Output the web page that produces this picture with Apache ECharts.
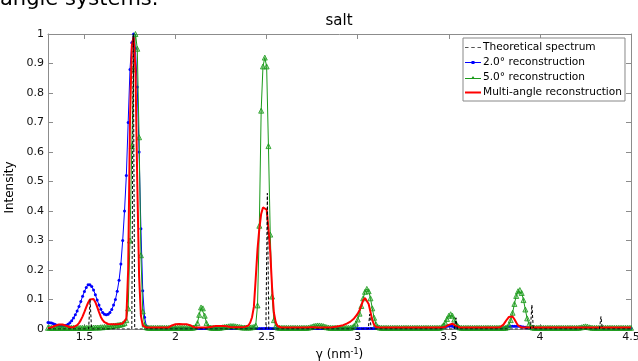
<!DOCTYPE html>
<html>
<head>
<meta charset="utf-8">
<script src="https://cdn.jsdelivr.net/npm/echarts@6/dist/echarts.min.js"></script>
<style>html,body{margin:0;padding:0;background:#fff;}#c{width:638px;height:361px;}</style>
</head>
<body>
<div id="c"></div>
<script>
// Sampling grid of the reconstructions: gamma = 1.30 + 0.01*i  (i = 0..320)
const gammaStart = 1.30;
const gammaStep = 0.01;

const xTicks = [1.5, 2, 2.5, 3, 3.5, 4, 4.5];

// Theoretical spectrum (narrow peaks)
const theoX = [1.30, 1.523, 1.531, 1.539, 1.760, 1.768, 1.776, 2.496, 2.504, 2.512,
               3.058, 3.066, 3.074, 3.531, 3.539, 3.547, 3.948, 3.956, 3.964,
               4.327, 4.335, 4.343, 4.50];
const theoY = [0, 0, 0.10, 0, 0, 1.00, 0, 0, 0.46, 0,
               0, 0.05, 0, 0, 0.038, 0, 0, 0.082, 0,
               0, 0.042, 0, 0];

// 2.0 deg reconstruction
const blue2 = [
 .022,.021,.020,.018,.015,.013,.011,.010,.010,.011, // 1.30
 .013,.016,.021,.028,.037,.048,.061,.076,.093,.111, // 1.40
 .127,.141,.150,.150,.144,.132,.116,.098,.081,.067, // 1.50
 .056,.050,.048,.050,.056,.066,.081,.100,.128,.165, // 1.60
 .220,.300,.400,.520,.700,.880,.970,1.00,.950,.820, // 1.70
 .600,.340,.130,.040,.010,.004,.002,.002,.002,.002, // 1.80
 .002,.002,.002,.002,.002,.002,.002,.002,.002,.002, // 1.90
 .002,.002,.002,.002,.002,.002,.002,.002,.002,.002, // 2.00
 .002,.002,.002,.002,.002,.002,.002,.002,.002,.002, // 2.10
 .002,.002,.002,.002,.002,.002,.002,.002,.002,.002, // 2.20
 .002,.002,.002,.002,.002,.002,.002,.002,.002,.002, // 2.30
 .002,.002,.002,.002,.002,.002,.002,.002,.002,.002, // 2.40
 .002,.002,.002,.002,.002,.002,.002,.002,.002,.002, // 2.50
 .002,.002,.002,.002,.002,.002,.002,.002,.002,.002, // 2.60
 .002,.002,.002,.002,.002,.002,.002,.002,.002,.002, // 2.70
 .002,.002,.002,.002,.002,.002,.002,.002,.002,.002, // 2.80
 .002,.002,.002,.002,.002,.002,.002,.002,.002,.002, // 2.90
 .002,.002,.002,.002,.002,.002,.002,.002,.002,.002, // 3.00
 .002,.002,.002,.002,.002,.002,.002,.002,.002,.002, // 3.10
 .002,.002,.002,.002,.002,.002,.002,.002,.002,.002, // 3.20
 .002,.002,.002,.002,.002,.002,.002,.002,.002,.002, // 3.30
 .002,.002,.002,.002,.002,.002,.003,.005,.007,.009, // 3.40
 .010,.010,.009,.006,.004,.002,.002,.002,.002,.002, // 3.50
 .002,.002,.002,.002,.002,.002,.002,.002,.002,.002, // 3.60
 .002,.002,.002,.002,.002,.002,.002,.002,.002,.002, // 3.70
 .003,.005,.007,.008,.009,.009,.009,.009,.009,.009, // 3.80
 .008,.007,.006,.004,.003,.002,.002,.002,.002,.002, // 3.90
 .002,.002,.002,.002,.002,.002,.002,.002,.002,.002, // 4.00
 .002,.002,.002,.002,.002,.002,.002,.002,.002,.002, // 4.10
 .002,.002,.003,.004,.005,.005,.004,.003,.002,.002, // 4.20
 .002,.002,.002,.002,.002,.002,.002,.002,.002,.002, // 4.30
 .002,.002,.002,.002,.002,.002,.002,.002,.002,.002, // 4.40
 .002                                                // 4.50
];

// 5.0 deg reconstruction
const green5 = [
 .004,.004,.004,.004,.004,.004,.004,.004,.004,.004, // 1.30
 .004,.004,.004,.004,.004,.004,.004,.004,.004,.004, // 1.40
 .004,.004,.004,.004,.004,.005,.005,.005,.005,.006, // 1.50
 .006,.007,.007,.008,.009,.010,.011,.012,.013,.014, // 1.60
 .015,.017,.020,.030,.070,.300,.620,.880,1.00,.950, // 1.70
 .650,.250,.060,.015,.006,.004,.004,.004,.004,.004, // 1.80
 .004,.004,.004,.004,.004,.004,.004,.004,.004,.004, // 1.90
 .004,.004,.004,.004,.004,.004,.004,.004,.004,.004, // 2.00
 .005,.008,.020,.048,.073,.070,.045,.020,.008,.005, // 2.10
 .004,.004,.004,.004,.004,.005,.006,.007,.008,.009, // 2.20
 .010,.010,.010,.009,.008,.007,.006,.005,.005,.005, // 2.30
 .005,.005,.006,.007,.012,.080,.350,.740,.890,.920, // 2.40
 .890,.620,.320,.110,.030,.010,.005,.004,.004,.004, // 2.50
 .004,.004,.004,.004,.004,.004,.004,.004,.004,.004, // 2.60
 .004,.004,.004,.005,.006,.008,.010,.011,.012,.012, // 2.70
 .011,.010,.008,.006,.005,.004,.004,.004,.004,.004, // 2.80
 .004,.004,.004,.004,.004,.004,.004,.006,.010,.018, // 2.90
 .032,.052,.078,.104,.126,.136,.128,.104,.070,.038, // 3.00
 .016,.007,.005,.004,.004,.004,.004,.004,.004,.004, // 3.10
 .004,.004,.004,.004,.004,.004,.004,.004,.004,.004, // 3.20
 .004,.004,.004,.004,.004,.004,.004,.004,.004,.004, // 3.30
 .004,.004,.004,.004,.004,.004,.006,.012,.022,.034, // 3.40
 .045,.050,.045,.032,.018,.009,.005,.004,.004,.004, // 3.50
 .004,.004,.004,.004,.004,.004,.004,.004,.004,.004, // 3.60
 .004,.004,.004,.004,.004,.004,.004,.004,.004,.004, // 3.70
 .004,.004,.006,.014,.030,.055,.085,.112,.128,.132, // 3.80
 .122,.098,.066,.036,.016,.007,.005,.004,.004,.004, // 3.90
 .004,.004,.004,.004,.004,.004,.004,.004,.004,.004, // 4.00
 .004,.004,.004,.004,.004,.004,.004,.004,.004,.004, // 4.10
 .004,.004,.005,.006,.008,.009,.008,.006,.005,.004, // 4.20
 .004,.004,.004,.004,.004,.004,.004,.004,.004,.004, // 4.30
 .004,.004,.004,.004,.004,.004,.004,.004,.004,.004, // 4.40
 .004                                                // 4.50
];

// Multi-angle reconstruction
const multi = [
 .003,.004,.006,.008,.011,.013,.015,.015,.015,.013, // 1.30
 .011,.008,.006,.005,.006,.008,.013,.020,.030,.043, // 1.40
 .058,.074,.089,.100,.105,.102,.091,.075,.057,.041, // 1.50
 .030,.023,.019,.017,.016,.016,.016,.016,.016,.017, // 1.60
 .018,.019,.020,.035,.200,.700,.960,.990,.880,.500, // 1.70
 .180,.045,.012,.006,.005,.005,.005,.005,.005,.005, // 1.80
 .005,.005,.005,.005,.005,.005,.005,.008,.012,.015, // 1.90
 .016,.017,.017,.017,.016,.016,.016,.016,.013,.009, // 2.00
 .006,.005,.005,.005,.005,.005,.005,.005,.006,.007, // 2.10
 .008,.009,.010,.010,.010,.010,.010,.010,.009,.008, // 2.20
 .007,.007,.006,.006,.006,.006,.006,.006,.007,.009, // 2.30
 .012,.022,.040,.075,.170,.270,.340,.390,.412,.415, // 2.40
 .405,.340,.260,.140,.055,.022,.010,.006,.005,.005, // 2.50
 .005,.005,.005,.005,.005,.005,.005,.005,.005,.005, // 2.60
 .005,.005,.005,.006,.006,.006,.006,.006,.005,.005, // 2.70
 .005,.005,.005,.005,.005,.005,.006,.007,.008,.009, // 2.80
 .010,.011,.013,.015,.018,.021,.025,.030,.036,.044, // 2.90
 .052,.064,.080,.097,.105,.102,.085,.058,.030,.014, // 3.00
 .007,.005,.005,.005,.005,.005,.005,.005,.005,.005, // 3.10
 .005,.005,.005,.005,.005,.005,.005,.005,.005,.005, // 3.20
 .005,.005,.005,.005,.005,.005,.005,.005,.005,.005, // 3.30
 .005,.005,.005,.005,.005,.005,.005,.005,.007,.010, // 3.40
 .014,.018,.018,.015,.010,.006,.005,.005,.005,.005, // 3.50
 .005,.005,.005,.005,.005,.005,.005,.005,.005,.005, // 3.60
 .005,.005,.005,.005,.005,.005,.005,.005,.006,.009, // 3.70
 .015,.024,.033,.041,.045,.042,.033,.022,.012,.007, // 3.80
 .005,.005,.005,.005,.005,.005,.005,.005,.005,.005, // 3.90
 .005,.005,.005,.005,.005,.005,.005,.005,.005,.005, // 4.00
 .005,.005,.005,.005,.005,.005,.005,.005,.005,.005, // 4.10
 .005,.005,.005,.005,.005,.005,.005,.005,.005,.005, // 4.20
 .005,.005,.005,.005,.005,.005,.005,.005,.005,.005, // 4.30
 .005,.005,.005,.005,.005,.005,.005,.005,.005,.005, // 4.40
 .005                                                // 4.50
];

const seriesNames = ['Theoretical spectrum', '2.0\u00b0 reconstruction', '5.0\u00b0 reconstruction', 'Multi-angle reconstruction'];

function onGrid(arr) {
  return arr.map((v, i) => [+(gammaStart + i * gammaStep).toFixed(2), v]);
}
const theoData = theoX.map((x, i) => [x, theoY[i]]);

const FONT = 'DejaVu Sans';
const AXC = '#8c8c8c';
const BLUE = '#0000ff', GREEN = '#1a9a1a', RED = '#ff0000';

const chart = echarts.init(document.getElementById('c'), null, {renderer: 'canvas'});
const tickCommon = {show: true, inside: true, length: 5, lineStyle: {color: AXC, width: 1}};

// legend sample glyphs (MATLAB-like line samples)
const iconDash = 'path://M0,0h3.5v1h-3.5z M6.25,0h3.5v1h-3.5z M12.5,0h3.5v1h-3.5z';
const iconDot = 'path://M0,1h16v1h-16z M6.5,0h3v3h-3z';
const iconTri = 'path://M0,2h16v1h-16z M8,0l2,3h-4z';
const iconLine = 'path://M0,0h16v2h-16z';
const legendItem = (color) => ({color: color, borderWidth: 0, borderColor: color});

chart.setOption({
  animation: false,
  backgroundColor: '#fff',
  textStyle: {fontFamily: FONT},
  graphic: [
    {type: 'text', x: 0, y: 0, style: {text: 'angle systems.', font: '21px "DejaVu Sans"', fill: '#000', align: 'left', verticalAlign: 'middle'}},
    {type: 'text', x: 339, y: 21.5, style: {text: 'salt', font: '15px "DejaVu Sans"', fill: '#000', align: 'center', verticalAlign: 'middle'}}
  ],
  grid: {left: 48, right: 7, top: 34, bottom: 32, containLabel: false, outerBoundsMode: 'none'},
  legend: {
    orient: 'vertical', left: 463, top: 38,
    data: [
      {name: seriesNames[0], icon: iconDash, itemStyle: legendItem('#555')},
      {name: seriesNames[1], icon: iconDot, itemStyle: legendItem(BLUE)},
      {name: seriesNames[2], icon: iconTri, itemStyle: legendItem(GREEN)},
      {name: seriesNames[3], icon: iconLine, itemStyle: legendItem(RED)}
    ],
    itemWidth: 16, itemHeight: 8, itemGap: 4,
    padding: [4, 3, 3, 2],
    borderColor: '#888', borderWidth: 1, borderRadius: 0, backgroundColor: '#fff',
    textStyle: {fontSize: 10.6, color: '#000', fontFamily: FONT, padding: [0, 0, 0, -3]}
  },
  xAxis: [
    {type: 'value', min: 1.3, max: 4.5, position: 'bottom',
     axisLine: {show: true, onZero: false, lineStyle: {color: AXC}},
     axisTick: Object.assign({customValues: xTicks}, tickCommon),
     axisLabel: {customValues: xTicks, margin: 3, fontSize: 11, color: '#111', fontFamily: FONT, formatter: v => String(v)},
     splitLine: {show: false},
     name: '{a|\u03b3 (nm}{s|-1}{a|)}', nameLocation: 'middle', nameGap: 15,
     nameTextStyle: {rich: {a: {fontSize: 12, color: '#000', fontFamily: FONT}, s: {fontSize: 8, color: '#000', fontFamily: FONT, verticalAlign: 'top', padding: [0, 0, 6, 0]}}}
    },
    {type: 'value', min: 1.3, max: 4.5, position: 'top',
     axisLine: {show: true, onZero: false, lineStyle: {color: AXC}},
     axisTick: Object.assign({customValues: xTicks}, tickCommon),
     axisLabel: {show: false}, splitLine: {show: false}}
  ],
  yAxis: [
    {type: 'value', min: 0, max: 1, interval: 0.1, position: 'left',
     axisLine: {show: true, onZero: false, lineStyle: {color: AXC}},
     axisTick: tickCommon,
     axisLabel: {margin: 4, fontSize: 11, color: '#111', fontFamily: FONT},
     splitLine: {show: false},
     name: 'Intensity', nameLocation: 'middle', nameGap: 25,
     nameTextStyle: {fontSize: 12, color: '#000', fontFamily: FONT, padding: [0, 12, 0, 0]}},
    {type: 'value', min: 0, max: 1, interval: 0.1, position: 'right',
     axisLine: {show: true, onZero: false, lineStyle: {color: AXC}},
     axisTick: tickCommon, axisLabel: {show: false}, splitLine: {show: false}}
  ],
  series: [
    {name: seriesNames[1], type: 'line', data: onGrid(blue2), symbol: 'circle', symbolSize: 3,
     lineStyle: {color: BLUE, width: 1}, itemStyle: {color: BLUE}, z: 2},
    {name: seriesNames[2], type: 'line', data: onGrid(green5), symbol: 'triangle', symbolSize: 5,
     lineStyle: {color: GREEN, width: 1}, itemStyle: {color: 'rgba(40,160,40,0.35)', borderColor: GREEN, borderWidth: 0.8}, z: 3},
    {name: seriesNames[3], type: 'line', data: onGrid(multi), symbol: 'none',
     lineStyle: {color: RED, width: 2}, itemStyle: {color: RED}, z: 4},
    {name: seriesNames[0], type: 'line', data: theoData, symbol: 'none',
     lineStyle: {color: '#000', width: 1, type: [3, 2]}, itemStyle: {color: '#000'}, z: 5}
  ]
});
</script>
</body>
</html>
